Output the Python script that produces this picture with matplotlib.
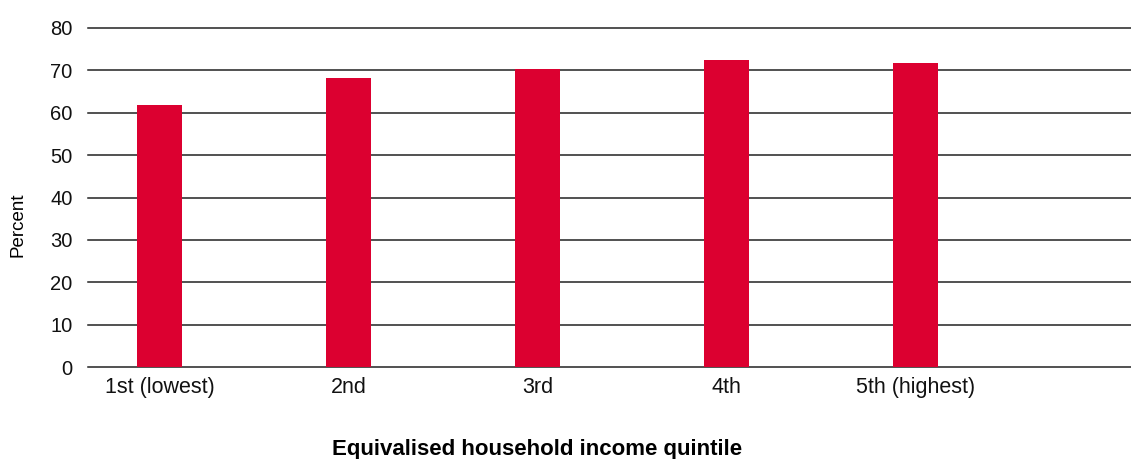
import matplotlib.pyplot as plt

plt.rcParams['font.family'] = ['Liberation Sans', 'DejaVu Sans']

# share of households (percent) by income quintile
quintiles = ['1st (lowest)', '2nd', '3rd', '4th', '5th (highest)']
percent = [61.8, 68.2, 70.3, 72.4, 71.7]
y_ticks = [0, 10, 20, 30, 40, 50, 60, 70, 80]

fig = plt.figure(figsize=(11.31, 4.59), dpi=100)
ax = fig.add_axes([0.0778, 0.2004, 0.9222, 0.7386])

x = list(range(len(quintiles)))
ax.bar(x, percent, width=0.238, color='#DC0030', zorder=3)

# horizontal rules at every tick
for t in y_ticks:
    ax.axhline(t, color='#222222', linewidth=1.1, clip_on=False, zorder=1)

ax.set_ylim(0, 80)
ax.set_xlim(-0.378, 5.14)
ax.set_yticks(y_ticks)
ax.set_xticks(x)
ax.set_xticklabels(quintiles)

for s in ax.spines.values():
    s.set_visible(False)
ax.tick_params(axis='y', length=0, pad=11, labelsize=14.5, colors='#111111')
ax.tick_params(axis='x', length=0, pad=7, labelsize=15.5, colors='#111111')

ax.set_ylabel('Percent', fontsize=13.5)
ax.yaxis.set_label_coords(-0.0585, 0.419)

ax.text(2, -0.243, 'Equivalised household income quintile',
        transform=ax.get_xaxis_transform(), ha='center', va='center',
        fontsize=16, fontweight='bold')

fig.savefig('out.png', dpi=100)
